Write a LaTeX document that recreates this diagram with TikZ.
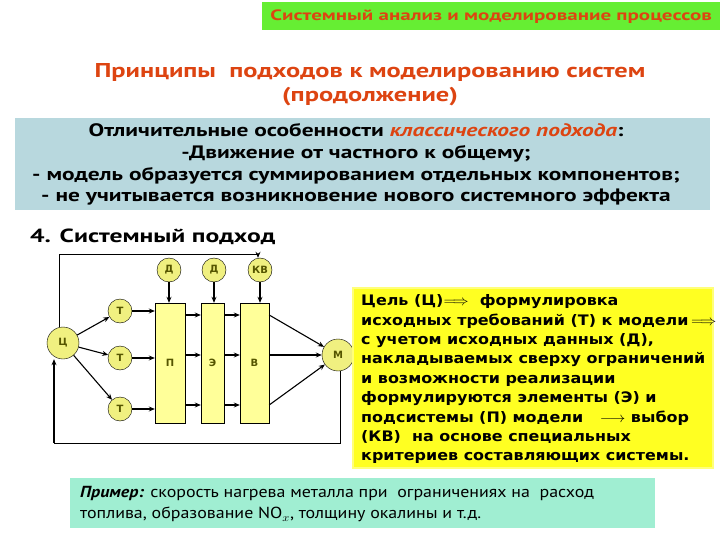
\documentclass[tikz,border=0pt]{standalone}
\usepackage{fontspec}
\usepackage{graphicx}
\setmainfont{DejaVu Sans}
\newfontfamily\ptsans{PT Sans}
\usetikzlibrary{arrows.meta}
\definecolor{ttl}{HTML}{DD4411}
\definecolor{bnr}{HTML}{66EE33}
\definecolor{bluebox}{HTML}{B8D8DE}
\definecolor{ybox}{HTML}{FFFF22}
\definecolor{ex}{HTML}{A0EED2}
\definecolor{circ}{HTML}{F0F080}
\definecolor{blk}{HTML}{FFFF99}
\definecolor{lbl}{HTML}{555500}
\tikzset{
 cn/.style={circle,draw=black,fill=circ,inner sep=0pt,font=\bfseries\fontsize{10}{10}\selectfont,text=lbl},
 bk/.style={draw=black,fill=blk,inner sep=0pt,font=\bfseries\fontsize{10}{10}\selectfont,text=lbl},
 ar/.style={-{Stealth[length=6pt,width=5pt]},line width=1.1pt},
 ln/.style={line width=1pt}
}
\begin{document}
\begin{tikzpicture}[x=1pt,y=-1pt]
\useasboundingbox (0,0) rectangle (720,540);
\fill[white] (0,0) rectangle (720,540);
\node[fill=bnr,minimum width=458pt,minimum height=28pt,anchor=north west,inner sep=0pt,font=\ptsans\bfseries\fontsize{15}{15}\selectfont,text=ttl] (bn) at (262,2) {\scalebox{1.4}[1]{Системный анализ и моделирование процессов}};
\node[font=\ptsans\bfseries\fontsize{20}{24}\selectfont,text=ttl,inner sep=0pt] (tt) at (370,85) {\scalebox{1.32}[1]{\begin{tabular}{@{}c@{}}Принципы\ \ подходов к моделированию систем\\(продолжение)\end{tabular}}};
\node[fill=bluebox,minimum width=695pt,minimum height=92pt,anchor=north west,inner sep=0pt] (bb) at (15,118) {};
\node[font=\ptsans\bfseries\fontsize{18}{21.7}\selectfont,inner sep=0pt] (bt) at (356,165) {\scalebox{1.3}[1]{\begin{tabular}{@{}c@{}}Отличительные особенности {\color{ttl}\itshape классического подхода}:\\-Движение от частного к общему;\\- модель образуется суммированием отдельных компонентов;\\- не учитывается возникновение нового системного эффекта\end{tabular}}};
\node[font=\ptsans\bfseries\fontsize{19}{19}\selectfont,anchor=west,inner sep=0pt] (h4) at (30,237) {\scalebox{1.35}[1]{4. Системный подход}};
% diagram
\node[cn,minimum size=32pt] (c) at (63,343) {Ц};
\node[cn,minimum size=24pt] (t1) at (120,311) {Т};
\node[cn,minimum size=24pt] (t2) at (120,358) {Т};
\node[cn,minimum size=24pt] (t3) at (120,409) {Т};
\node[cn,minimum size=24pt] (d1) at (169,270) {Д};
\node[cn,minimum size=24pt] (d2) at (214,270) {Д};
\node[cn,minimum size=24pt] (kv) at (260,270) {КВ};
\node[bk,minimum width=30pt,minimum height=120pt] (p) at (170,363) {П};
\node[bk,minimum width=23pt,minimum height=120pt] (e) at (212.5,363) {Э};
\node[bk,minimum width=29pt,minimum height=120pt] (v) at (254.5,363) {В};
\node[cn,minimum size=32pt] (m) at (338,355) {М};
\draw[ar] (c) -- (t1);
\draw[ar] (c) -- (t2);
\draw[ar] (c) -- (t3);
\draw[ar] (t1.east) -- (p.west|-t1.east);
\draw[ar] (t2.east) -- (p.west|-t2.east);
\draw[ar] (t3.east) -- (p.west|-t3.east);
\foreach \y in {315,355,405}{
 \draw[ar] (p.east|-0,\y) -- (e.west|-0,\y);
 \draw[ar] (e.east|-0,\y) -- (v.west|-0,\y);
}
\draw[ar] (d1) -- (d1|-p.north);
\draw[ar] (d2) -- (d2|-e.north);
\draw[ar] (kv) -- (kv|-v.north);
\draw[ar] (v.east|-0,315) -- (m);
\draw[ar] (v.east|-0,355) -- (m.west);
\draw[ar] (v.east|-0,405) -- (m);
\coordinate (a1) at (59,254);
\coordinate (a2) at (258,254);
\draw[ln,-{Stealth[length=6pt,width=5pt]}] (c.north-|a1) -- (a1) -- (a2) -- (a2|-kv.north);
\coordinate (b1) at (340,443);
\coordinate (b2) at (54,443);
\draw[ln] (m.south-|b1) -- (b1) -- (b2);
\draw[ar] (b2) -- (b2|-c.south);
% yellow box
\node[fill=ybox,draw=ybox!60!white,line width=1.5pt,minimum width=360pt,minimum height=180pt,anchor=north west,inner sep=0pt] (yb) at (352,287) {};
\node[font=\bfseries\fontsize{14.5}{19.4}\selectfont,anchor=north west,inner sep=0pt] (yt) at (361,292) {\scalebox{1.1}[1]{\begin{tabular}{@{}l@{}}Цель (Ц)$\Longrightarrow$\ \ формулировка\\исходных требований (Т) к модели\,$\Longrightarrow$\\с учетом исходных данных (Д),\\накладываемых сверху ограничений\\и возможности реализации\\формулируются элементы (Э) и\\подсистемы (П) модели\ \ \ $\longrightarrow$ выбор\\(КВ)\ \ на основе специальных\\критериев составляющих системы.\end{tabular}}};
% example
\node[fill=ex,minimum width=585pt,minimum height=50pt,anchor=north west,inner sep=0pt] (eb) at (70,478) {};
\node[font=\ptsans\fontsize{16}{21}\selectfont,anchor=north west,inner sep=0pt] (et) at (80,483) {\scalebox{1.12}[1]{\begin{tabular}{@{}l@{}}{\bfseries\itshape Пример:} скорость нагрева металла при\ \ ограничениях на\ \ расход\\топлива, образование NO$_x$, толщину окалины и т.д.\end{tabular}}};
\end{tikzpicture}
\end{document}
